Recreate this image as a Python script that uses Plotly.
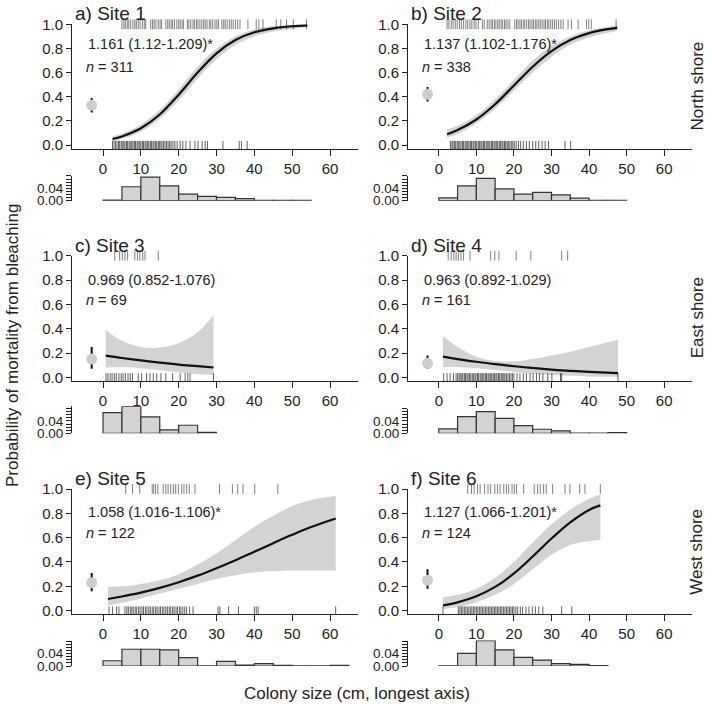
import plotly.graph_objects as go

# ---------------- data ----------------
site_titles = ["a) Site 1", "b) Site 2", "c) Site 3", "d) Site 4", "e) Site 5", "f) Site 6"]
odds_text = ["1.161 (1.12-1.209)*", "1.137 (1.102-1.176)*", "0.969 (0.852-1.076)",
             "0.963 (0.892-1.029)", "1.058 (1.016-1.106)*", "1.127 (1.066-1.201)*"]
n_obs = [311, 338, 69, 161, 122, 124]
shore_labels = ["North shore", "East shore", "West shore"]

x_ticks = [0, 10, 20, 30, 40, 50, 60]
y_ticks = [0.0, 0.2, 0.4, 0.6, 0.8, 1.0]
y_tick_labels = ["0.0", "0.2", "0.4", "0.6", "0.8", "1.0"]
hist_ticks = [0.0, 0.01, 0.02, 0.03, 0.04, 0.05, 0.06, 0.07, 0.08]
hist_tick_labels = ["0.00", "", "", "", "0.04", "", "", "", ""]

# fitted curve
curve_x = [
    [2.5, 5, 10, 15, 20, 25, 30, 35, 40, 45, 50, 54],
    [2.2, 5, 10, 15, 20, 25, 30, 35, 40, 45, 47.5],
    [0.7, 5, 10, 15, 20, 25, 29.2],
    [1.1, 5, 10, 15, 20, 25, 30, 35, 40, 47.7],
    [1.3, 5, 10, 15, 20, 25, 30, 35, 40, 45, 50, 55, 61.5],
    [1.1, 5, 10, 15, 20, 25, 30, 35, 40, 43],
]
curve_fit = [
    [0.05, 0.071, 0.139, 0.253, 0.417, 0.60, 0.76, 0.87, 0.934, 0.967, 0.984, 0.991],
    [0.09, 0.124, 0.212, 0.338, 0.493, 0.649, 0.778, 0.87, 0.927, 0.96, 0.971],
    [0.178, 0.159, 0.139, 0.121, 0.105, 0.092, 0.081],
    [0.170, 0.150, 0.128, 0.108, 0.091, 0.077, 0.064, 0.054, 0.045, 0.034],
    [0.096, 0.116, 0.148, 0.187, 0.234, 0.288, 0.349, 0.415, 0.485, 0.555, 0.623, 0.687, 0.757],
    [0.044, 0.068, 0.118, 0.195, 0.306, 0.445, 0.593, 0.726, 0.828, 0.865],
]
curve_lo = [
    [0.03, 0.05, 0.11, 0.22, 0.37, 0.55, 0.71, 0.83, 0.90, 0.94, 0.96, 0.975],
    [0.06, 0.09, 0.18, 0.30, 0.45, 0.60, 0.73, 0.83, 0.89, 0.93, 0.945],
    [0.08, 0.085, 0.075, 0.06, 0.04, 0.027, 0.018],
    [0.085, 0.085, 0.075, 0.06, 0.045, 0.03, 0.02, 0.013, 0.008, 0.004],
    [0.045, 0.065, 0.10, 0.14, 0.18, 0.22, 0.26, 0.29, 0.315, 0.325, 0.33, 0.33, 0.33],
    [0.015, 0.03, 0.07, 0.13, 0.22, 0.34, 0.46, 0.54, 0.57, 0.58],
]
curve_hi = [
    [0.07, 0.095, 0.17, 0.29, 0.46, 0.65, 0.80, 0.90, 0.96, 0.985, 0.995, 0.998],
    [0.13, 0.16, 0.25, 0.38, 0.54, 0.70, 0.82, 0.90, 0.95, 0.98, 0.99],
    [0.39, 0.30, 0.25, 0.245, 0.28, 0.37, 0.51],
    [0.34, 0.25, 0.17, 0.135, 0.13, 0.15, 0.18, 0.21, 0.25, 0.31],
    [0.195, 0.20, 0.22, 0.25, 0.30, 0.38, 0.47, 0.58, 0.69, 0.78, 0.86, 0.91, 0.945],
    [0.11, 0.13, 0.18, 0.27, 0.40, 0.56, 0.71, 0.83, 0.92, 0.955],
]

# site-level mean mortality (grey point) with interval
point_x = -3
point_mean = [0.33, 0.42, 0.15, 0.115, 0.23, 0.25]
point_lo = [0.27, 0.36, 0.07, 0.07, 0.16, 0.18]
point_hi = [0.39, 0.48, 0.25, 0.18, 0.31, 0.34]

# histogram densities, bins of 5 cm starting at 0
hist_bin_width = 5
hist_density = [
    [0.002, 0.045, 0.076, 0.048, 0.021, 0.014, 0.011, 0.0065, 0.0015, 0.0012, 0.0008],
    [0.009, 0.048, 0.072, 0.038, 0.021, 0.027, 0.019, 0.008, 0.001, 0.001],
    [0.067, 0.087, 0.053, 0.011, 0.026, 0.003],
    [0.014, 0.054, 0.070, 0.048, 0.025, 0.013, 0.008, 0.0008, 0.0008, 0.002],
    [0.017, 0.054, 0.054, 0.052, 0.027, 0.0008, 0.015, 0.003, 0.0075, 0.002, 0.0008, 0.0008, 0.002],
    [0.0008, 0.041, 0.082, 0.052, 0.028, 0.019, 0.0075, 0.005, 0.0015],
]

# rug: colony sizes of dead (top) and surviving (bottom) colonies
rug_dead = [
    [5.0, 5.5, 5.9, 6.4, 6.8, 7.3, 7.9, 8.4, 8.8, 9.3, 9.8, 10.4, 10.9, 11.3,
     12.6, 13.1, 13.5, 14.0, 14.6, 15.1, 15.5,
     16.6, 17.1, 17.5, 18.0, 18.4, 18.9, 19.5, 20.0, 20.4, 20.9, 21.3,
     22.3, 22.7, 23.2, 23.8, 24.2, 24.7, 25.1, 25.6, 26.1, 26.6, 27.0, 27.5, 28.1, 28.5,
     29.0, 29.6, 30.1, 30.5, 31.4, 31.9, 32.3, 32.8, 33.4, 33.9, 34.4, 35.0, 35.6, 36.2,
     38.3, 40.5, 41.2, 42.3, 45.8, 47.0, 48.5, 50.3, 53.8],
    [2.2, 2.7, 3.3, 3.8, 4.4, 4.9, 5.5, 6.0, 6.6, 7.2, 7.7, 8.3, 8.8, 9.4, 9.9, 10.5,
     11.6, 12.1, 12.9, 13.4, 13.9, 14.3, 14.8, 15.2, 15.7, 16.1, 16.6, 17.0, 17.5, 17.9,
     18.4, 18.9, 20.2, 20.7, 21.1, 21.6, 22.0, 22.5, 22.9, 23.4, 23.9, 24.3, 24.8, 25.2,
     25.7, 26.1, 26.6, 27.0, 27.5, 28.0, 28.4, 28.9, 29.3, 29.8, 30.3, 30.8, 31.3, 31.9,
     32.5, 33.1, 34.4, 35.3, 37.1, 39.3, 39.9, 40.6, 47.2],
    [3.1, 4.4, 5.1, 5.8, 6.5, 8.4, 9.1, 9.7, 10.5, 11.1, 14.6],
    [2.5, 3.3, 4.0, 4.6, 5.2, 5.9, 6.6, 8.3, 13.8, 14.9, 16.0, 20.6, 24.5, 32.7, 34.3],
    [6.0, 7.8, 9.7, 13.0, 13.4, 13.9, 14.5, 15.9, 16.6, 17.2, 17.9, 18.6, 19.2, 19.9,
     20.8, 21.4, 22.1, 22.8, 24.3, 30.8, 34.2, 35.6, 37.0, 40.1, 46.2],
    [7.7, 8.7, 9.4, 10.3, 11.0, 12.2, 13.1, 13.8, 14.9, 15.6, 16.3, 17.3, 18.0, 18.6,
     19.5, 20.1, 20.7, 22.6, 25.4, 26.3, 27.0, 27.9, 28.6, 30.3, 33.6, 34.9, 37.5, 38.9, 43.0],
]
rug_alive = [
    [2.5, 2.9, 3.3, 3.7, 4.1, 4.4, 4.8, 5.1, 5.5, 5.8, 6.2, 6.5, 6.9, 7.2, 7.6, 7.9, 8.3,
     8.6, 9.0, 9.3, 9.7, 10.0, 10.4, 10.7, 11.1, 11.4, 11.8, 12.1, 12.5, 12.8, 13.2, 13.5,
     13.9, 14.2, 14.6, 14.9, 15.3, 15.6, 16.0, 16.4, 16.8, 17.2, 17.6, 18.0, 18.5, 19.0,
     19.6, 20.4, 21.1, 21.9, 23.0, 24.3, 25.1, 26.2, 27.0, 27.6, 31.7, 36.0, 36.6, 38.1],
    [3.1, 3.5, 3.8, 4.2, 4.5, 4.9, 5.2, 5.6, 5.9, 6.3, 6.6, 7.0, 7.3, 7.7, 8.0, 8.4, 8.7,
     9.1, 9.4, 9.8, 10.1, 10.5, 10.8, 11.2, 11.5, 11.9, 12.2, 12.6, 12.9, 13.3, 13.6, 14.0,
     14.3, 14.7, 15.0, 15.4, 15.7, 16.1, 16.4, 16.8, 17.1, 17.5, 17.8, 18.2, 18.5, 18.9,
     19.3, 19.7, 20.1, 20.6, 21.2, 21.8, 22.5, 23.3, 24.1, 25.0, 25.8, 26.6, 27.5, 28.3,
     29.2, 33.6, 35.1],
    [0.8, 1.3, 1.9, 2.4, 3.0, 3.5, 4.2, 4.8, 5.3, 5.9, 6.6, 7.2, 7.8, 9.3, 10.2, 11.5,
     12.4, 13.3, 14.2, 15.3, 16.6, 18.4, 20.4, 21.7, 22.4, 23.0, 29.2],
    [1.3, 2.2, 3.0, 3.9, 4.6, 5.0, 5.4, 5.7, 6.1, 6.4, 6.8, 7.1, 7.5, 7.8, 8.2, 8.5, 8.9,
     9.2, 9.6, 9.9, 10.3, 10.6, 11.0, 11.3, 11.7, 12.0, 12.4, 12.7, 13.1, 13.4, 13.8, 14.1,
     14.5, 14.8, 15.2, 15.5, 15.9, 16.2, 16.6, 16.9, 17.3, 17.6, 18.0, 18.4, 18.8, 19.2,
     19.6, 20.0, 20.8, 21.6, 22.5, 23.3, 24.3, 25.1, 26.0, 26.8, 27.7, 29.0, 30.1, 32.4,
     32.7, 47.7],
    [1.6, 2.5, 3.6, 4.2, 5.8, 6.3, 6.7, 7.2, 7.6, 8.0, 8.5, 8.9, 9.4, 9.8, 10.3, 10.7,
     11.2, 11.6, 12.1, 12.5, 13.0, 13.4, 13.9, 14.3, 14.8, 15.2, 15.7, 16.1, 16.6, 17.0,
     17.5, 17.9, 18.4, 18.8, 19.3, 19.7, 20.2, 20.6, 21.1, 21.6, 22.1, 22.9, 23.8, 30.4,
     30.9, 33.2, 35.8, 40.0, 40.5, 41.0, 61.5],
    [1.1, 5.2, 5.6, 6.0, 6.4, 6.8, 7.2, 7.6, 8.0, 8.4, 8.8, 9.2, 9.6, 10.0, 10.4, 10.8,
     11.2, 11.6, 12.0, 12.4, 12.8, 13.2, 13.6, 14.0, 14.4, 14.8, 15.2, 15.6, 16.0, 16.4,
     16.8, 17.2, 17.6, 18.0, 18.4, 18.8, 19.2, 19.6, 20.0, 20.5, 21.0, 21.7, 22.3, 23.2,
     24.0, 24.9, 25.7, 26.6, 27.7, 32.7, 35.4],
]

# ---------------- layout geometry (pixels in the 709x707 window) ----------------
W, H = 709, 707
FONT = "Liberation Sans, Arial, sans-serif"
INK = "#222222"
col_px = [(72, 358), (408, 692)]
main_rows_px = [(24.3, 148.7), (255.7, 381.0), (489.0, 614.3)]
hist_base_px = [200.7, 433.3, 666.0]
hist_px_per_unit = 310.0
x_range = [-8.2, 67.4]
y_range = [-0.03, 1.0]
or_y = [0.84, 0.80, 0.81]
n_y = [0.65, 0.635, 0.64]
title_gap_px = [11.0, 10.0, 11.0]


def px_x(p):
    return p / W


def px_y(p):
    return 1 - p / H


fig = go.Figure()
layout = {}
annotations = []

for i in range(6):
    r, c = divmod(i, 2)
    mx = 2 * i + 1
    hx = 2 * i + 2
    xa_m, ya_m = f"x{mx}", f"y{mx}"
    xa_h, ya_h = f"x{hx}", f"y{hx}"
    x0, x1 = col_px[c]
    top, bot = main_rows_px[r]
    xdom = [px_x(x0), px_x(x1)]

    # confidence band
    fig.add_trace(go.Scatter(x=curve_x[i], y=curve_lo[i], mode="lines",
                             line=dict(width=0, shape="spline", color="#d3d3d3"),
                             xaxis=xa_m, yaxis=ya_m, showlegend=False, hoverinfo="skip"))
    fig.add_trace(go.Scatter(x=curve_x[i], y=curve_hi[i], mode="lines", fill="tonexty",
                             fillcolor="#d3d3d3",
                             line=dict(width=0, shape="spline", color="#d3d3d3"),
                             xaxis=xa_m, yaxis=ya_m, showlegend=False, hoverinfo="skip"))
    # fitted curve
    fig.add_trace(go.Scatter(x=curve_x[i], y=curve_fit[i], mode="lines",
                             line=dict(width=2.2, shape="spline", color="#111111"),
                             xaxis=xa_m, yaxis=ya_m, showlegend=False))
    # rugs
    fig.add_trace(go.Scatter(x=rug_dead[i], y=[1.0] * len(rug_dead[i]), mode="markers",
                             marker=dict(symbol="line-ns", size=7,
                                         line=dict(width=1, color="rgba(0,0,0,0.5)")),
                             cliponaxis=False, xaxis=xa_m, yaxis=ya_m, showlegend=False))
    fig.add_trace(go.Scatter(x=rug_alive[i], y=[0.0] * len(rug_alive[i]), mode="markers",
                             marker=dict(symbol="line-ns", size=6,
                                         line=dict(width=1, color="rgba(0,0,0,0.62)")),
                             cliponaxis=False, xaxis=xa_m, yaxis=ya_m, showlegend=False))
    # site mean with interval
    fig.add_trace(go.Scatter(x=[point_x, point_x], y=[point_lo[i], point_hi[i]], mode="lines",
                             line=dict(width=2, color="#111111"),
                             xaxis=xa_m, yaxis=ya_m, showlegend=False))
    fig.add_trace(go.Scatter(x=[point_x], y=[point_mean[i]], mode="markers",
                             marker=dict(size=11, color="#cdcdcd", line=dict(width=0)),
                             xaxis=xa_m, yaxis=ya_m, showlegend=False))

    # histogram
    centers = [hist_bin_width * (k + 0.5) for k in range(len(hist_density[i]))]
    fig.add_trace(go.Bar(x=centers, y=hist_density[i], width=hist_bin_width,
                         marker=dict(color="#d3d3d3", line=dict(color="#333333", width=1.2)),
                         xaxis=xa_h, yaxis=ya_h, showlegend=False))

    tickfont = dict(family=FONT, size=15, color=INK)
    layout[f"xaxis{mx}"] = dict(domain=xdom, range=x_range, anchor=ya_m, showline=True,
                                linecolor=INK, linewidth=1, ticks="outside", ticklen=6,
                                tickcolor=INK, tickvals=x_ticks, showgrid=False,
                                zeroline=False, tickfont=tickfont, automargin=False)
    layout[f"yaxis{mx}"] = dict(domain=[px_y(bot), px_y(top)], range=y_range, anchor=xa_m,
                                showline=True, linecolor=INK, linewidth=1, ticks="outside",
                                ticklen=5, tickcolor=INK, tickvals=y_ticks,
                                ticktext=y_tick_labels, showgrid=False, zeroline=False,
                                tickfont=tickfont, automargin=False)
    hmax = max(0.08, max(hist_density[i]))
    base = hist_base_px[r]
    layout[f"xaxis{hx}"] = dict(domain=xdom, range=x_range, anchor=ya_h, visible=False,
                                automargin=False)
    layout[f"yaxis{hx}"] = dict(domain=[px_y(base), px_y(base - hmax * hist_px_per_unit)],
                                range=[0, hmax], anchor=xa_h, showline=True, linecolor=INK,
                                linewidth=1, ticks="outside", ticklen=5, tickcolor=INK,
                                tickvals=hist_ticks, ticktext=hist_tick_labels,
                                showgrid=False, zeroline=False,
                                tickfont=dict(family=FONT, size=13.5, color=INK),
                                automargin=False)

    # panel texts
    annotations.append(dict(text=site_titles[i], xref="paper", yref="paper",
                            x=px_x(x0 + 1), y=px_y(top - title_gap_px[r]), xanchor="left",
                            yanchor="middle", showarrow=False,
                            font=dict(family=FONT, size=19, color=INK)))
    annotations.append(dict(text=odds_text[i], xref=xa_m, yref=ya_m, x=-4.5, y=or_y[r],
                            xanchor="left", yanchor="middle", showarrow=False,
                            font=dict(family=FONT, size=14.5, color=INK)))
    annotations.append(dict(text=f"<i>n</i> = {n_obs[i]}", xref=xa_m, yref=ya_m, x=-5.0,
                            y=n_y[r], xanchor="left", yanchor="middle", showarrow=False,
                            font=dict(family=FONT, size=14.5, color=INK)))

# shared labels
for r in range(3):
    top, bot = main_rows_px[r]
    annotations.append(dict(text=shore_labels[r], xref="paper", yref="paper",
                            x=px_x(697), y=px_y((top + bot) / 2), textangle=-90,
                            xanchor="center", yanchor="middle", showarrow=False,
                            font=dict(family=FONT, size=17, color=INK)))
annotations.append(dict(text="Probability of mortality from bleaching", xref="paper",
                        yref="paper", x=px_x(12), y=px_y(346), textangle=-90,
                        xanchor="center", yanchor="middle", showarrow=False,
                        font=dict(family=FONT, size=17, color=INK)))
annotations.append(dict(text="Colony size (cm, longest axis)", xref="paper", yref="paper",
                        x=px_x(357), y=px_y(693), xanchor="center", yanchor="middle",
                        showarrow=False, font=dict(family=FONT, size=17, color=INK)))

fig.update_layout(template="none", width=W, height=H,
                  margin=dict(l=0, r=0, t=0, b=0, pad=0, autoexpand=False),
                  paper_bgcolor="white", plot_bgcolor="white", bargap=0,
                  showlegend=False, hovermode=False,
                  annotations=annotations, **layout)

# place the figure at the page origin (remove the default 8px body margin)
fig.write_html("out.html",
               config={"displayModeBar": False, "staticPlot": True},
               post_script="document.body.style.margin='0px';"
                           "document.body.style.overflow='hidden';")
